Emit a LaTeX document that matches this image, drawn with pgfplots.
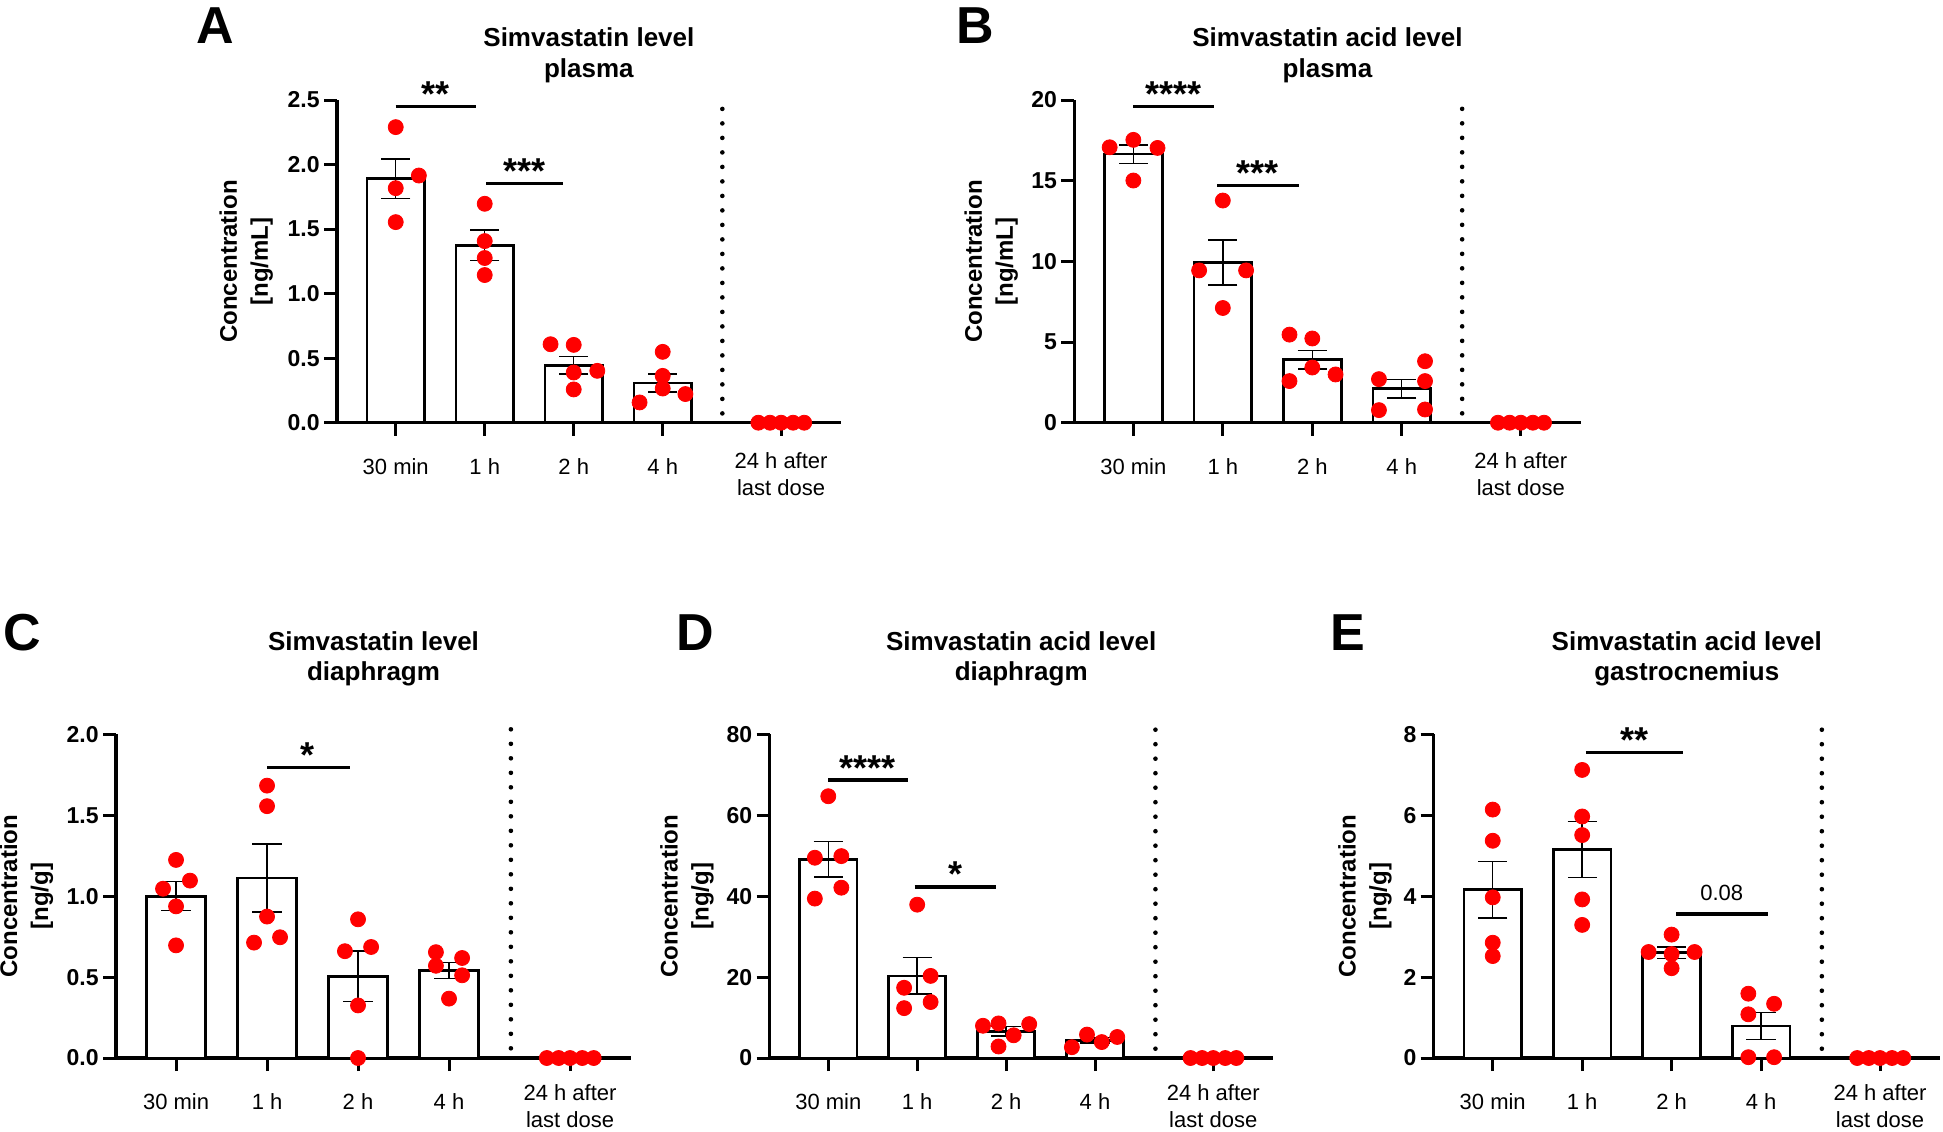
\documentclass[border=0pt]{standalone}
\usepackage{fontspec}
\setmainfont{Liberation Sans}
\usepackage{pgfplots}
\pgfplotsset{compat=1.18}

\pgfplotsset{
  panel/.style={
    scale only axis,
    xmin=-0.66, xmax=5.0,
    ymin=0,
    axis lines=left,
    axis line style={-, line width=1.65pt},
    tick align=outside,
    major tick length=6.5pt,
    every tick/.style={black, line width=1.5pt},
    xtick={0,1,2,3},
    xticklabels={30 min, 1 h, 2 h, 4 h},
    extra x ticks={4.33},
    extra x tick labels={24 h after\\last dose},
    extra x tick style={xticklabel style={yshift=3pt}},
    xticklabel style={align=center, anchor=north, font=\fontsize{11}{13.5}\selectfont, inner sep=0pt, yshift=-11pt},
    yticklabel style={font=\fontsize{11.5}{13}\selectfont\bfseries, inner sep=2pt},
    /pgf/number format/assume math mode=true,
    ylabel style={anchor=center, align=center, font=\fontsize{12}{15.5}\selectfont\bfseries},
    clip=false,
  },
  lowrow/.style={extra x tick style={xticklabel style={yshift=1.5pt}}},
  barp/.style={ybar, bar width=0.645, bar shift=0pt, fill=white, draw=black, line width=1.37pt,
    error bars/.cd, y dir=both, y explicit,
    error bar style={line width=0.7pt, black},
    error mark options={rotate=90, line width=0.7pt, mark size=7.3pt, black}},
  dots/.style={only marks, mark=*, mark size=3.75pt, color=red, mark options={fill=red, draw=none}},
  vdots/.style={line width=2.3pt, line cap=round, dash pattern=on 0pt off 7.25pt, black, forget plot},
}
\tikzset{
  sig/.style={line width=1.65pt},
  stars/.style={anchor=base, font=\fontsize{18}{18}\selectfont\bfseries, inner sep=0pt},
  ttl/.style={anchor=base, font=\fontsize{13}{15}\selectfont\bfseries, inner sep=0pt},
  letter/.style={anchor=base, font=\fontsize{26}{26}\selectfont\bfseries, inner sep=0pt},
}

\begin{document}
\begin{tikzpicture}

% ---------------- A ----------------
\begin{axis}[panel, at={(168.5pt,-211.35pt)}, anchor=south west,
  width=251.85pt, height=161.35pt, ymax=2.5, ytick={0,0.5,1,1.5,2,2.5},
  yticklabel style={/pgf/number format/.cd, fixed, fixed zerofill, precision=1},
  ylabel={Concentration\\{[ng/mL]}},
  ylabel style={at={(axis description cs:-0.18,0.5)}}]
\addplot[barp] table[x=x, y=y, y error=e] {
x y e
0 1.89 0.152
1 1.375 0.118
2 0.445 0.067
3 0.307 0.07
};
\addplot[dots] table {
0 2.29
0.26 1.915
0 1.817
0 1.554
1 1.696
1 1.407
1 1.276
1 1.144
1.74 0.608
2 0.603
2 0.389
2.265 0.402
2 0.258
3 0.549
3 0.363
3 0.265
2.74 0.157
3.255 0.222
4.075 0
4.205 0
4.33 0
4.465 0
4.59 0
};
\addplot[vdots] coordinates {(3.67,0.072) (3.67,2.54)};
\draw[sig] (axis cs:0,2.448) -- (axis cs:0.9,2.448);
\node[stars] at (axis cs:0.45,2.448) {**};
\draw[sig] (axis cs:1.015,1.851) -- (axis cs:1.885,1.851);
\node[stars] at (axis cs:1.45,1.851) {***};
\end{axis}

% ---------------- B ----------------
\begin{axis}[panel, at={(537.15pt,-211.35pt)}, anchor=south west,
  width=253.2pt, height=161.35pt, ymax=20, ytick={0,5,10,15,20},
  ylabel={Concentration\\{[ng/mL]}},
  ylabel style={at={(axis description cs:-0.164,0.5)}}]
\addplot[barp] table[x=x, y=y, y error=e] {
x y e
0 16.65 0.57
1 9.93 1.39
2 3.9 0.57
3 2.1 0.57
};
\addplot[dots] table {
-0.265 17.07
0 17.53
0.27 17.03
0 15.01
1 13.77
0.735 9.44
1.26 9.44
1 7.11
1.745 5.46
2 5.22
2 3.42
2.26 2.99
1.745 2.58
3.26 3.81
2.745 2.70
3.26 2.58
2.745 0.78
3.26 0.82
4.075 0
4.205 0
4.33 0
4.465 0
4.59 0
};
\addplot[vdots] coordinates {(3.675,0.58) (3.675,20.32)};
\draw[sig] (axis cs:0,19.59) -- (axis cs:0.9,19.59);
\node[stars] at (axis cs:0.45,19.59) {****};
\draw[sig] (axis cs:0.935,14.7) -- (axis cs:1.85,14.7);
\node[stars] at (axis cs:1.39,14.7) {***};
\end{axis}

% ---------------- C ----------------
\begin{axis}[panel, lowrow, at={(58pt,-529pt)}, anchor=south west,
  width=257.5pt, height=161.85pt, ymax=2.0, ytick={0,0.5,1,1.5,2},
  yticklabel style={/pgf/number format/.cd, fixed, fixed zerofill, precision=1},
  ylabel={Concentration\\{[ng/g]}},
  ylabel style={at={(axis description cs:-0.174,0.5)}}]
\addplot[barp] table[x=x, y=y, y error=e] {
x y e
0 1.0 0.09
1 1.112 0.21
2 0.505 0.155
3 0.54 0.05
};
\addplot[dots] table {
0 1.224
0.153 1.096
-0.143 1.046
0 0.937
0 0.696
1 1.683
1 1.556
1 0.874
0.857 0.713
1.143 0.746
2 0.857
1.856 0.660
2.144 0.686
2 0.325
2 0.0
2.856 0.654
3.144 0.618
2.856 0.570
3.144 0.511
3 0.367
4.075 0
4.205 0
4.33 0
4.465 0
4.59 0
};
\addplot[vdots] coordinates {(3.68,0.06) (3.68,2.04)};
\draw[sig] (axis cs:1.0,1.797) -- (axis cs:1.91,1.797);
\node[stars] at (axis cs:1.45,1.797) {*};
\end{axis}

% ---------------- D ----------------
\begin{axis}[panel, lowrow, at={(384.8pt,-529pt)}, anchor=south west,
  width=251.6pt, height=161.85pt, ymax=80, ytick={0,20,40,60,80},
  ylabel={Concentration\\{[ng/g]}},
  ylabel style={at={(axis description cs:-0.164,0.5)}}]
\addplot[barp] table[x=x, y=y, y error=e] {
x y e
0 49.1 4.4
1 20.3 4.5
2 6.6 1.2
3 4.4 0.7
};
\addplot[dots] table {
0 64.7
-0.151 49.5
0.147 49.9
0.147 42.1
-0.151 39.4
1 37.9
1.151 20.3
0.853 17.36
1.151 13.84
0.853 12.33
1.74 7.97
1.915 8.55
2.26 8.39
2.085 5.62
1.915 2.85
2.74 2.68
2.91 5.79
3.076 3.94
3.25 5.2
4.075 0
4.205 0
4.33 0
4.465 0
4.59 0
};
\addplot[vdots] coordinates {(3.68,2.3) (3.68,81.5)};
\draw[sig] (axis cs:0,68.7) -- (axis cs:0.9,68.7);
\node[stars] at (axis cs:0.44,68.7) {****};
\draw[sig] (axis cs:0.97,42.3) -- (axis cs:1.89,42.3);
\node[stars] at (axis cs:1.43,42.3) {*};
\end{axis}

% ---------------- E ----------------
\begin{axis}[panel, lowrow, at={(716.85pt,-529pt)}, anchor=south west,
  width=253.1pt, height=161.85pt, ymax=8, ytick={0,2,4,6,8},
  ylabel={Concentration\\{[ng/g]}},
  ylabel style={at={(axis description cs:-0.136,0.5)}}]
\addplot[barp] table[x=x, y=y, y error=e] {
x y e
0 4.16 0.7
1 5.15 0.69
2 2.6 0.14
3 0.79 0.33
};
\addplot[dots] table {
0 6.14
0 5.37
0 3.97
0 2.85
0 2.52
1 7.12
1 5.97
1 5.51
1 3.92
1 3.29
2 3.05
1.743 2.62
2 2.57
2.257 2.62
2 2.22
2.858 1.59
3.146 1.34
2.858 1.08
2.858 0.02
3.146 0.02
4.075 0
4.205 0
4.33 0
4.465 0
4.59 0
};
\addplot[vdots] coordinates {(3.68,0.23) (3.68,8.15)};
\draw[sig] (axis cs:1.04,7.55) -- (axis cs:2.125,7.55);
\node[stars] at (axis cs:1.59,7.55) {**};
\draw[sig] (axis cs:2.054,3.56) -- (axis cs:3.078,3.56);
\node[anchor=base, font=\fontsize{11}{13}\selectfont, inner sep=0pt] at (axis cs:2.56,3.56) [yshift=6.5pt] {0.08};
\end{axis}

% ---------------- titles and letters ----------------
\node[ttl] at (294.45pt,-23.3pt) {Simvastatin level};
\node[ttl] at (294.45pt,-38.6pt) {plasma};
\node[ttl] at (663.75pt,-23.3pt) {Simvastatin acid level};
\node[ttl] at (663.75pt,-38.6pt) {plasma};
\node[ttl] at (186.75pt,-325.4pt) {Simvastatin level};
\node[ttl] at (186.75pt,-340pt) {diaphragm};
\node[ttl] at (510.6pt,-325.4pt) {Simvastatin acid level};
\node[ttl] at (510.6pt,-340pt) {diaphragm};
\node[ttl] at (843.4pt,-325.4pt) {Simvastatin acid level};
\node[ttl] at (843.4pt,-340pt) {gastrocnemius};

\node[letter] at (107.5pt,-21.6pt) {A};
\node[letter] at (487.5pt,-21.6pt) {B};
\node[letter] at (11pt,-325pt) {C};
\node[letter] at (347.5pt,-325pt) {D};
\node[letter] at (674pt,-325pt) {E};

\pgfresetboundingbox
\path[use as bounding box] (0,0) rectangle (971.5pt,-565.5pt);
\end{tikzpicture}
\end{document}
